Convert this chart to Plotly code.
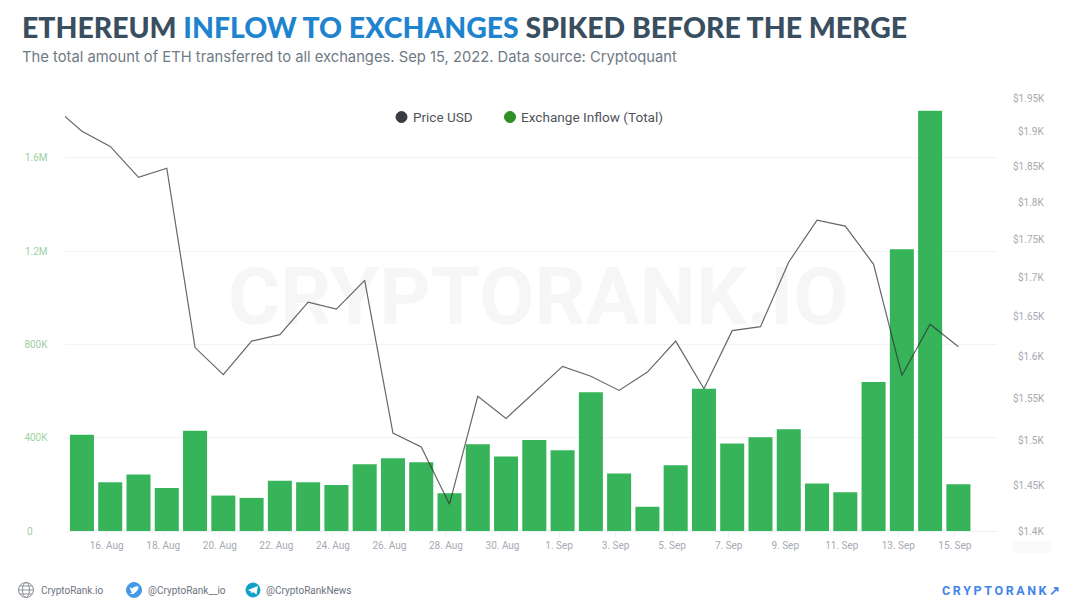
import math
import plotly.graph_objects as go

W, H = 1077, 605
L, R, T, B = 65, 997, 98, 531

# Daily exchange inflow, ETH
inflow_dates = [f"2022-08-{d:02d}T03:00" for d in range(15, 32)] + [f"2022-09-{d:02d}T03:00" for d in range(1, 16)]
inflow_values = [413000, 209000, 242000, 184000, 430000, 152000, 142000, 216000, 209000, 197000, 286000,
                 312000, 295000, 162000, 372000, 320000, 390000, 346000, 595000, 247000, 104000, 282000,
                 610000, 375000, 402000, 436000, 204000, 166000, 639000, 1208000, 1802000, 200000]

# Daily ETH price, USD; the series starts one day before the inflow data
price_dates = ["2022-08-14T03:00"] + inflow_dates
price_values = [1937, 1901, 1879, 1835, 1848, 1611, 1578, 1619, 1627, 1668, 1659, 1696, 1509, 1493, 1429,
                1552, 1526, 1557, 1588, 1576, 1559, 1581, 1619, 1561, 1632, 1637, 1720, 1776, 1768, 1717,
                1577, 1640, 1612]

left_ticks = [0, 400000, 800000, 1200000, 1600000]
left_labels = ["0", "400K", "800K", "1.2M", "1.6M"]
right_ticks = [1400, 1450, 1500, 1550, 1600, 1650, 1700, 1750, 1800, 1850, 1900, 1950]
right_labels = ["$1.4K", "$1.45K", "$1.5K", "$1.55K", "$1.6K", "$1.65K", "$1.7K", "$1.75K", "$1.8K", "$1.85K", "$1.9K", "$1.95K"]
date_ticks = ["2022-08-16", "2022-08-18", "2022-08-20", "2022-08-22", "2022-08-24", "2022-08-26", "2022-08-28",
              "2022-08-30", "2022-09-01", "2022-09-03", "2022-09-05", "2022-09-07", "2022-09-09", "2022-09-11",
              "2022-09-13", "2022-09-15"]
date_labels = ["16. Aug", "18. Aug", "20. Aug", "22. Aug", "24. Aug", "26. Aug", "28. Aug", "30. Aug",
               "1. Sep", "3. Sep", "5. Sep", "7. Sep", "9. Sep", "11. Sep", "13. Sep", "15. Sep"]

NB = "\u00a0"
left_text = [t + NB * max(0, (4 - len(t)) * 2 + 1) for t in left_labels]
right_text = [NB * (2 * (6 - len(t))) + t for t in right_labels]


def px(x):
    return (x - L) / (R - L)


def py(y):
    return (B - y) / (B - T)


def text(x, y, s, size, color, family="Roboto", anchor="left", **kw):
    return dict(x=px(x), y=py(y), xref="paper", yref="paper", text=s, showarrow=False, xanchor=anchor,
                yanchor="middle", align=anchor, font=dict(family=family, size=size, color=color, **kw))


def disc(cx, cy, r, fill, line=None, lw=1):
    return dict(type="circle", xref="paper", yref="paper", x0=px(cx - r), x1=px(cx + r), y0=py(cy + r), y1=py(cy - r),
                fillcolor=fill, line=dict(color=line or fill, width=lw), layer="above")


def poly(points, fill, line=None, lw=1, close=True):
    d = " ".join(("M" if i == 0 else "L") + f"{px(a):.5f},{py(b):.5f}" for i, (a, b) in enumerate(points))
    return dict(type="path", xref="paper", yref="paper", path=d + (" Z" if close else ""), fillcolor=fill,
                line=dict(color=line or fill, width=lw), layer="above")


fig = go.Figure()
fig.add_bar(x=inflow_dates, y=inflow_values, name="Exchange Inflow (Total)", marker=dict(color="#37b359", line_width=0),
            width=0.85 * 86400000, yaxis="y", showlegend=False)
fig.add_scatter(x=price_dates, y=price_values, name="Price USD", mode="lines", yaxis="y2", showlegend=False,
                line=dict(color="rgba(45,45,50,0.72)", width=1.2))

GREY = "#6d7480"
annotations = [
    # Background wordmark, translucent so the price line stays visible through it
    text(538, 297, "<b>CRYPTORANK.IO</b>", 80, "rgba(0,0,20,0.037)", family="Roboto", anchor="center"),
    # Heading
    text(19.5, 27, "ETHEREUM <span style='color:#1f84cf'>INFLOW TO EXCHANGES</span> SPIKED BEFORE THE MERGE",
         28.4, "#394e5f", family="Lato", weight=900),
    text(19.5, 57, "The total amount of ETH transferred to all exchanges. Sep 15, 2022. Data source: Cryptoquant",
         14.75, "#6f7a84", family="Inter"),
    # Legend
    text(411, 117, "Price USD", 13.5, "#50545c"),
    text(519, 117, "Exchange Inflow (Total)", 13.6, "#50545c"),
    # Footer
    text(39, 590, "CryptoRank.io", 10, GREY),
    text(146, 590, "@CryptoRank__io", 10, GREY),
    text(263.5, 590, "@CryptoRankNews", 10, GREY),
    text(940, 590, "<b>C\u2009R\u2009Y\u2009P\u2009T\u2009O\u2009R\u2009A\u2009N\u2009K\u2009\u2197</b>", 12.5, "#4285e8"),
]

shapes = [
    disc(401.5, 117, 5.5, "#3a3d42"),
    disc(510, 117, 5.5, "#2f9026"),
    # Faint patch under the right axis
    dict(type="rect", xref="paper", yref="paper", x0=px(1012), x1=px(1052), y0=py(553), y1=py(541),
         fillcolor="#fafafa", line_width=0, layer="below"),
    # Globe icon
    disc(26, 590, 7.5, "rgba(0,0,0,0)", "#8a8f98", 1),
    dict(type="circle", xref="paper", yref="paper", x0=px(22.5), x1=px(29.5), y0=py(597.5), y1=py(582.5),
         line=dict(color="#8a8f98", width=1), layer="above"),
    poly([(18.5, 590), (33.5, 590)], "rgba(0,0,0,0)", "#8a8f98", 1, close=False),
    poly([(20, 586), (32, 586)], "rgba(0,0,0,0)", "#8a8f98", 1, close=False),
    poly([(20, 594), (32, 594)], "rgba(0,0,0,0)", "#8a8f98", 1, close=False),
    # Twitter icon
    disc(134, 590, 7.5, "#4299e8"),
    poly([(129.5, 587), (132, 588.5), (134, 587), (138, 586), (138.5, 588), (137, 591), (133.5, 594),
          (129.5, 594), (132, 592.5), (130.5, 590)], "#ffffff", lw=0),
    # Telegram icon
    disc(253, 590, 7, "#109fc9"),
    poly([(248, 590), (258, 586), (256.5, 594.5), (253, 592), (251.5, 593.5), (251, 591.5)], "#ffffff", lw=0),
]

axis_font = dict(family="Roboto", size=10)
fig.update_layout(
    width=W, height=H, autosize=False,
    margin=dict(l=L, r=W - R, t=T, b=H - B, pad=0),
    paper_bgcolor="#ffffff", plot_bgcolor="#ffffff",
    showlegend=False, hovermode=False,
    bargap=0.15,
    annotations=annotations, shapes=shapes,
    xaxis=dict(type="date", range=["2022-08-14T12:36", "2022-09-16T11:46"], tickmode="array", tickvals=date_ticks,
               ticktext=date_labels, tickangle=0, showgrid=False, ticks="outside", ticklen=5, tickcolor="#f1f1f3",
               showline=True, linecolor="#f1f1f3", linewidth=1, zeroline=False,
               tickfont=dict(color="#a6a8b4", **axis_font)),
    yaxis=dict(range=[0, 1857000], tickmode="array", tickvals=left_ticks, ticktext=left_text, gridcolor="#f3f3f5",
               gridwidth=1, zeroline=False, showline=False, ticks="", ticklabelstandoff=14,
               tickfont=dict(color="#9ccf9f", **axis_font)),
    yaxis2=dict(type="log", overlaying="y", side="right", range=[math.log10(1400), math.log10(1950)], tickmode="array",
                tickvals=right_ticks, ticktext=right_text, showgrid=False, zeroline=False, showline=False, ticks="",
                ticklabelstandoff=15, tickfont=dict(color="#a6a8b0", **axis_font)),
)

fig.write_html("out.html")
